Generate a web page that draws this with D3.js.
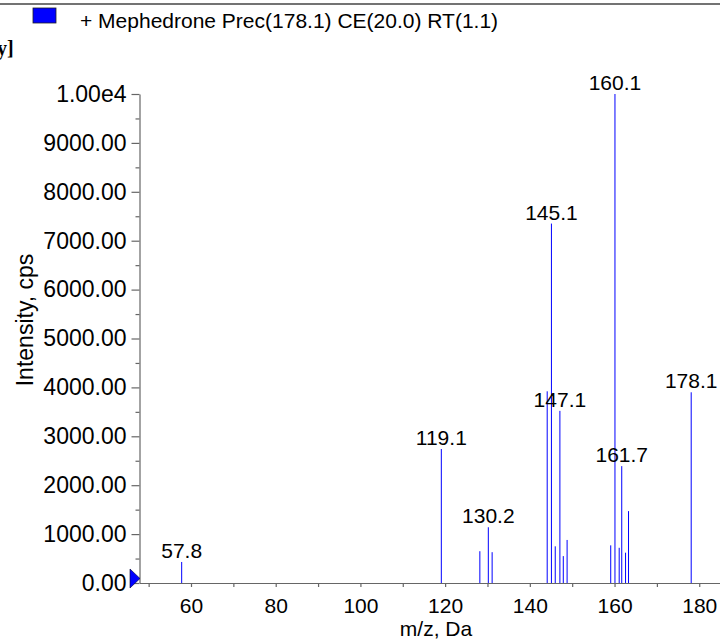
<!DOCTYPE html>
<html>
<head>
<meta charset="utf-8">
<script src="https://cdn.jsdelivr.net/npm/d3@7"></script>
<style>
    body { margin: 0; background: #fff; }
    svg { display: block; font-family: "Liberation Sans", Arial, sans-serif; }
</style>
</head>
<body>
<div id="chart"></div>
<script>
// Peak list
const mzValues = [57.8, 119.1, 128.2, 130.2, 131.1, 144.1, 145.1, 146.0, 147.1, 147.9, 148.8, 159.1, 160.1, 161.1, 161.7, 162.6, 163.3, 178.1];
const intensities = [430, 2740, 650, 1140, 630, 3920, 7350, 750, 3520, 550, 880, 770, 10000, 720, 2390, 620, 1470, 3900];
const peakLabels = ["57.8", "119.1", "", "130.2", "", "", "145.1", "", "147.1", "", "", "", "160.1", "", "161.7", "", "", "178.1"];

const xTicks = [60, 80, 100, 120, 140, 160, 180];
const xMinorTicks = [50, 70, 90, 110, 130, 150, 170];
const yTicks = [0, 1000, 2000, 3000, 4000, 5000, 6000, 7000, 8000, 9000, 10000];
const yMinorTicks = [500, 1500, 2500, 3500, 4500, 5500, 6500, 7500, 8500, 9500];

const title = "+ Mephedrone Prec(178.1) CE(20.0) RT(1.1)";
const xTitle = "m/z, Da";
const yTitle = "Intensity, cps";

const width = 720, height = 641;
const svg = d3.select("#chart").append("svg")
    .attr("width", width)
    .attr("height", height);

const x = d3.scaleLinear().domain([47.84, 184.9]).range([139.5, 720]);
const y = d3.scaleLinear().domain([0, 10000]).range([583, 94]);

// Header strip
svg.append("line")
    .attr("x1", 0).attr("x2", width)
    .attr("y1", 4).attr("y2", 4)
    .attr("stroke", "#444").attr("stroke-width", 1.5);
svg.append("rect")
    .attr("x", 33).attr("y", 8)
    .attr("width", 23).attr("height", 15)
    .attr("fill", "#0000ff").attr("stroke", "#222").attr("stroke-width", 0.8);
svg.append("text")
    .attr("x", 80).attr("y", 28)
    .attr("font-size", 21)
    .text(title);
svg.append("text")
    .attr("x", -3).attr("y", 55)
    .attr("font-family", "'Liberation Serif', 'DejaVu Serif', serif")
    .attr("font-weight", "bold")
    .attr("font-size", 20)
    .text("y]");

// Axes
const axisColor = "#666";

const yAxis = svg.append("g")
    .attr("transform", "translate(139.5,0)")
    .call(d3.axisLeft(y)
        .tickValues(yTicks)
        .tickSize(8)
        .tickSizeOuter(0)
        .tickPadding(5)
        .tickFormat(d => d === 10000 ? "1.00e4" : d.toFixed(2)));
yAxis.append("g")
    .call(d3.axisLeft(y).tickValues(yMinorTicks).tickSize(4).tickSizeOuter(0).tickFormat(""))
    .select(".domain").remove();

const xAxis = svg.append("g")
    .attr("transform", "translate(0,583)")
    .call(d3.axisBottom(x)
        .tickValues(xTicks)
        .tickSize(4)
        .tickSizeOuter(0));
xAxis.append("g")
    .call(d3.axisBottom(x).tickValues(xMinorTicks).tickSize(4).tickSizeOuter(0).tickFormat(""))
    .select(".domain").remove();

svg.selectAll(".domain, .tick line").attr("stroke", axisColor).attr("stroke-width", 1.2);
yAxis.selectAll(".tick text")
    .attr("font-size", 23)
    .attr("fill", "#000")
    .attr("font-family", "'Liberation Sans', Arial, sans-serif");
xAxis.selectAll(".tick text")
    .attr("font-size", 21)
    .attr("fill", "#000")
    .attr("y", 30)
    .attr("dy", 0)
    .attr("font-family", "'Liberation Sans', Arial, sans-serif");

svg.append("text")
    .attr("x", 436).attr("y", 636)
    .attr("text-anchor", "middle")
    .attr("font-size", 21)
    .text(xTitle);
svg.append("text")
    .attr("transform", "translate(33,320) rotate(-90)")
    .attr("text-anchor", "middle")
    .attr("font-size", 23)
    .text(yTitle);

// Peaks
const peaks = mzValues.map((mz, i) => ({ mz: mz, value: intensities[i], label: peakLabels[i] }));

svg.append("g").selectAll("line")
    .data(peaks)
    .enter().append("line")
        .attr("x1", d => x(d.mz))
        .attr("x2", d => x(d.mz))
        .attr("y1", y(0))
        .attr("y2", d => y(d.value))
        .attr("stroke", "#0000ff")
        .attr("stroke-width", 1);

svg.append("g").selectAll("text")
    .data(peaks.filter(d => d.label))
    .enter().append("text")
        .attr("x", d => x(d.mz))
        .attr("y", d => y(d.value) - 4)
        .attr("text-anchor", "middle")
        .attr("font-size", 21)
        .text(d => d.label);

// Zero marker on the intensity axis
svg.append("path")
    .attr("d", "M130,569 L130,588 L140,578.5 Z")
    .attr("fill", "#0000ff")
    .attr("stroke", "#000033")
    .attr("stroke-width", 0.6);
</script>
</body>
</html>
